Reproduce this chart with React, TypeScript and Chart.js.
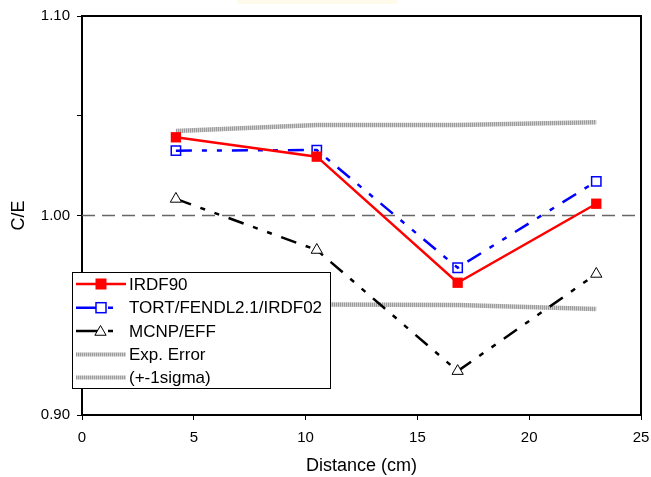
import React, { useEffect, useRef } from 'react';
import { Chart, registerables } from 'chart.js';

Chart.register(...registerables);

// ---- Data ----
const distances = [4.2, 10.5, 16.8, 23.0];
const irdf90 = [1.0392, 1.0295, 0.9663, 1.0059];
const tortFendl = [1.0325, 1.0328, 0.9738, 1.0171];
const mcnpEff = [1.0083, 0.9827, 0.922, 0.9707];
const expErrorUpper = [1.0424, 1.0454, 1.0454, 1.0467];
const expErrorLower = [0.9557, 0.9554, 0.9551, 0.9531];
const unityX = [0, 25];
const unityY = [1, 1];
const seriesLabels = ['IRDF90', 'TORT/FENDL2.1/IRDF02', 'MCNP/EFF', 'Exp. Error', '(+-1sigma)'];
const yTickLabels = ['0.90', '1.00', '1.10'];

const pts = (xs: number[], ys: number[]) => xs.map((x, i) => ({ x, y: ys[i] }));

const FONT = '"Liberation Sans", Arial, sans-serif';

const framePlugin = {
  id: 'frame',
  beforeDatasetsDraw(chart: any) {
    const { ctx, chartArea: a } = chart;
    ctx.save();
    ctx.strokeStyle = '#000';
    ctx.lineWidth = 2;
    ctx.strokeRect(a.left, a.top, a.right - a.left, a.bottom - a.top);
    ctx.restore();
  },
};

const legendRows = [284, 307.7, 331, 354.5, 377.5];

const legendPlugin = {
  id: 'boxLegend',
  afterDraw(chart: any) {
    const { ctx } = chart;
    const ds = chart.data.datasets;
    ctx.save();
    ctx.fillStyle = '#fff';
    ctx.fillRect(72.5, 272.5, 258, 116);
    ctx.strokeStyle = '#000';
    ctx.lineWidth = 1;
    ctx.setLineDash([]);
    ctx.strokeRect(72.5, 272.5, 258, 116);
    for (let i = 0; i < 5; i++) {
      const d = ds[i];
      const y = legendRows[i];
      ctx.strokeStyle = d.borderColor;
      ctx.lineWidth = i >= 3 ? 4 : d.borderWidth;
      ctx.setLineDash([]);
      ctx.beginPath();
      if (i === 0 || i >= 3) {
        ctx.moveTo(76, y);
        ctx.lineTo(126, y);
      } else {
        ctx.moveTo(76, y);
        ctx.lineTo(98, y);
        ctx.moveTo(108, y);
        ctx.lineTo(113, y);
      }
      ctx.stroke();
      if (i === 0) {
        ctx.fillStyle = d.borderColor;
        ctx.fillRect(95.5, y - 5.5, 11, 11);
      } else if (i === 1) {
        ctx.fillStyle = '#fff';
        ctx.fillRect(96, y - 5, 10, 10);
        ctx.strokeStyle = d.borderColor;
        ctx.lineWidth = 1.5;
        ctx.strokeRect(96, y - 5, 10, 10);
      } else if (i === 2) {
        const r = 6.5;
        const cx = 100.5;
        const cy = y + 1;
        ctx.beginPath();
        ctx.moveTo(cx, cy - r);
        ctx.lineTo(cx + r * Math.sin((2 * Math.PI) / 3), cy - r * Math.cos((2 * Math.PI) / 3));
        ctx.lineTo(cx - r * Math.sin((2 * Math.PI) / 3), cy - r * Math.cos((2 * Math.PI) / 3));
        ctx.closePath();
        ctx.fillStyle = '#fff';
        ctx.fill();
        ctx.strokeStyle = '#000';
        ctx.lineWidth = 1;
        ctx.stroke();
      }
      ctx.fillStyle = '#000';
      ctx.font = `17px ${FONT}`;
      ctx.textBaseline = 'middle';
      ctx.textAlign = 'left';
      ctx.fillText(seriesLabels[i], 129, y + 1);
    }
    ctx.restore();
  },
};

export default function App() {
  const ref = useRef<HTMLCanvasElement>(null);

  useEffect(() => {
    document.body.style.margin = '0';
    document.body.style.overflow = 'hidden';
    const canvas = ref.current!;
    const pc = document.createElement('canvas');
    pc.width = 2;
    pc.height = 2;
    const pctx = pc.getContext('2d')!;
    pctx.fillStyle = '#cfcfcf';
    pctx.fillRect(0, 0, 2, 2);
    pctx.fillStyle = '#9c9c9c';
    pctx.fillRect(0, 0, 1, 2);
    const grayPattern = canvas.getContext('2d')!.createPattern(pc, 'repeat') as any;

    const dashDotDot = [16, 10, 5, 10, 5, 10];

    const chart = new Chart(canvas, {
      type: 'line',
      data: {
        datasets: [
          {
            label: seriesLabels[0],
            data: pts(distances, irdf90),
            borderColor: '#ff0000',
            backgroundColor: '#ff0000',
            borderWidth: 2.5,
            pointStyle: 'rect',
            pointRadius: 7.3,
            pointBorderWidth: 0,
            pointBackgroundColor: '#ff0000',
            tension: 0,
          },
          {
            label: seriesLabels[1],
            data: pts(distances, tortFendl),
            borderColor: '#0000ff',
            backgroundColor: 'rgba(0,0,0,0)',
            borderWidth: 2.5,
            borderDash: dashDotDot,
            pointStyle: 'rect',
            pointRadius: 6.6,
            pointBorderWidth: 1.5,
            pointBorderColor: '#0000ff',
            pointBackgroundColor: 'rgba(0,0,0,0)',
          },
          {
            label: seriesLabels[2],
            data: pts(distances, mcnpEff),
            borderColor: '#000000',
            backgroundColor: '#ffffff',
            borderWidth: 2.5,
            borderDash: dashDotDot,
            pointStyle: 'triangle',
            pointRadius: 6.5,
            pointBorderWidth: 1,
            pointBorderColor: '#000',
            pointBackgroundColor: '#fff',
          },
          {
            label: seriesLabels[3],
            data: pts(distances, expErrorUpper),
            borderColor: grayPattern,
            borderWidth: 4.5,
            pointRadius: 0,
          },
          {
            label: seriesLabels[4],
            data: pts(distances, expErrorLower),
            borderColor: grayPattern,
            borderWidth: 4.5,
            pointRadius: 0,
          },
          {
            label: 'unity',
            data: pts(unityX, unityY),
            borderColor: '#666666',
            borderWidth: 1.5,
            borderDash: [13, 7],
            pointRadius: 0,
          },
        ],
      },
      options: {
        animation: false,
        responsive: false,
        devicePixelRatio: 1,
        layout: { padding: { top: 16, right: 10, left: 0, bottom: 0 } },
        plugins: {
          legend: { display: false },
          tooltip: { enabled: false },
        },
        scales: {
          x: {
            type: 'linear',
            min: 0,
            max: 25,
            ticks: {
              stepSize: 5,
              color: '#000',
              font: { family: FONT, size: 15 },
              padding: 9,
              maxRotation: 0,
            },
            grid: {
              drawOnChartArea: false,
              drawTicks: true,
              tickLength: 5,
              tickColor: '#000',
              tickWidth: 1,
            },
            border: { display: true, color: '#000', width: 2 },
            title: {
              display: true,
              text: 'Distance (cm)',
              color: '#000',
              font: { family: FONT, size: 18 },
              padding: { top: 0, bottom: 0 },
            },
            afterFit: (s: any) => {
              s.height = 62;
              s.paddingLeft = 0;
              s.paddingRight = 0;
            },
          },
          y: {
            type: 'linear',
            min: 0.9,
            max: 1.1,
            ticks: {
              stepSize: 0.05,
              color: '#000',
              font: { family: FONT, size: 15 },
              padding: 7,
              callback: (v: any) => {
                const r = Math.round(Number(v) * 100);
                if (r % 10 !== 0) return '';
                const idx = (r - 90) / 10;
                return yTickLabels[idx] ?? '';
              },
            },
            grid: {
              drawOnChartArea: false,
              drawTicks: true,
              tickLength: 5,
              tickColor: '#000',
              tickWidth: 1,
            },
            border: { display: true, color: '#000', width: 2 },
            title: {
              display: true,
              text: 'C/E',
              color: '#000',
              font: { family: FONT, size: 18 },
              padding: { top: 8, bottom: 0 },
            },
            afterFit: (s: any) => {
              s.width = 82;
              s.paddingTop = 0;
              s.paddingBottom = 0;
            },
          },
        },
      } as any,
      plugins: [framePlugin, legendPlugin],
    });
    return () => chart.destroy();
  }, []);

  return (
    <div style={{ position: 'relative', width: 651, height: 477, background: '#fff' }}>
      <canvas ref={ref} width={651} height={477} style={{ display: 'block' }} />
      <div
        style={{
          position: 'absolute',
          left: 237,
          top: 0,
          width: 160,
          height: 4,
          background: '#fffbea',
        }}
      />
    </div>
  );
}
